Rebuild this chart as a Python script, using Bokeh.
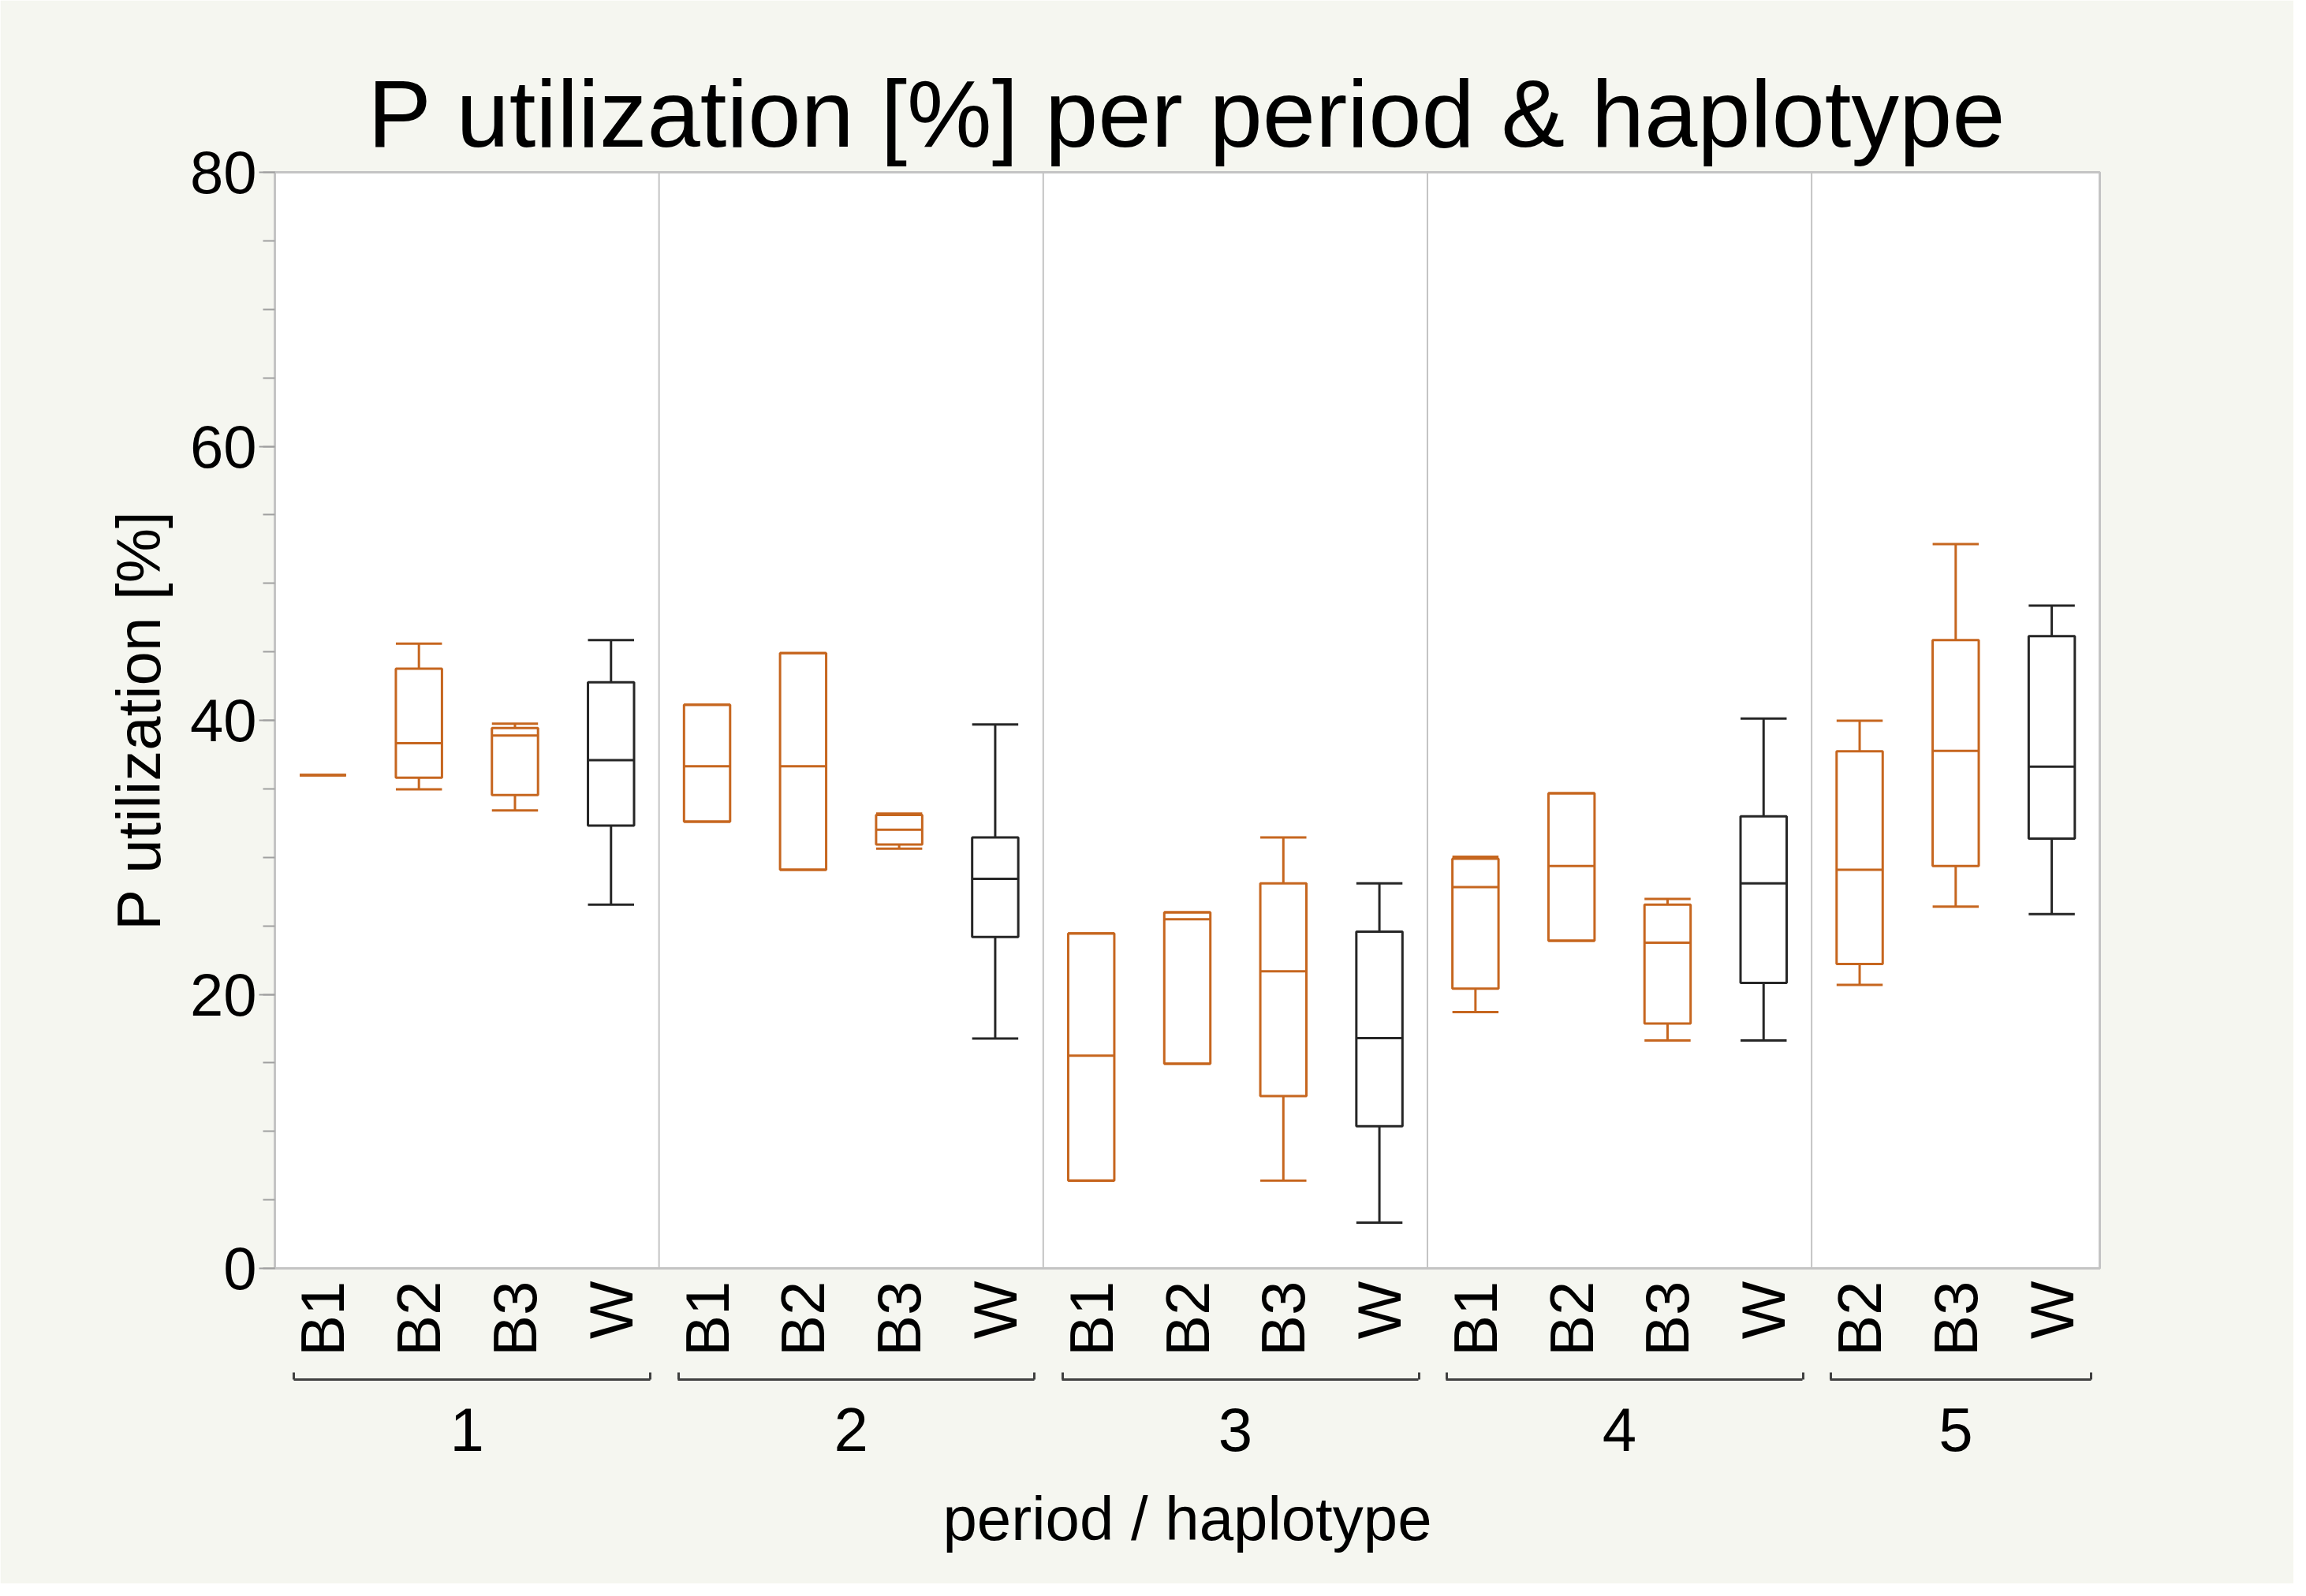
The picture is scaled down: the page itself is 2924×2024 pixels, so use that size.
import math
from bokeh.plotting import figure
from bokeh.models import (ColumnDataSource, FactorRange, Range1d, Span, LinearAxis,
                          SingleIntervalTicker, FixedTicker)
from bokeh.transform import dodge
from bokeh.embed import file_html
from bokeh.resources import INLINE

# ---------------- data ----------------
periods    = ["1", "1", "1", "1", "2", "2", "2", "2", "3", "3", "3", "3",
              "4", "4", "4", "4", "5", "5", "5"]
haplotypes = ["B1", "B2", "B3", "W", "B1", "B2", "B3", "W", "B1", "B2", "B3", "W",
              "B1", "B2", "B3", "W", "B2", "B3", "W"]
whisker_lo = [36.0, 34.96, 33.43, 26.55, 32.6, 29.1, 30.63, 16.77, 6.41, 14.93, 6.41, 3.34,
              18.71, 23.91, 16.63, 16.63, 20.69, 26.41, 25.85]
q1         = [36.0, 35.82, 34.54, 32.32, 32.6, 29.1, 30.93, 24.18, 6.41, 14.93, 12.57, 10.37,
              20.42, 23.91, 17.87, 20.84, 22.21, 29.37, 31.36]
medians    = [36.0, 38.33, 38.89, 37.1, 36.65, 36.65, 32.02, 28.43, 15.52, 25.48, 21.68, 16.8,
              27.83, 29.37, 23.77, 28.1, 29.09, 37.77, 36.62]
q3         = [36.0, 43.77, 39.44, 42.78, 41.13, 44.9, 33.09, 31.45, 24.45, 25.99, 28.1, 24.58,
              29.9, 34.67, 26.55, 32.99, 37.74, 45.86, 46.14]
whisker_hi = [36.0, 45.6, 39.75, 45.86, 41.13, 44.9, 33.2, 39.7, 24.45, 25.99, 31.45, 28.1,
              30.05, 34.67, 26.97, 40.13, 39.97, 52.87, 48.37]
y_ticks_major = 20
y_range = (0, 80)

ORANGE = "#c6661f"
DARK = "#262626"
GRID_GREY = "#c4c4c4"
BG = "#f5f6f0"
FONT = "Liberation Sans"
FRAME_W = 2314  # frame width in px (style)

colors = [DARK if h == "W" else ORANGE for h in haplotypes]
factors = list(zip(periods, haplotypes))
n = len(factors)

src = ColumnDataSource(dict(x=factors, lo=whisker_lo, q1=q1, med=medians, q3=q3,
                            hi=whisker_hi, color=colors))

x_range = FactorRange(*factors, factor_padding=0, group_padding=0,
                      subgroup_padding=0, range_padding=0)

p = figure(width=2908, height=2008, x_range=x_range, y_range=Range1d(*y_range),
           output_backend="svg", toolbar_location=None,
           min_border_left=348, min_border_right=246, min_border_top=218,
           min_border_bottom=400,
           title="P utilization [%] per period & haplotype",
           y_axis_label="P utilization [%]")

p.background_fill_color = "white"
p.border_fill_color = BG
p.outline_line_color = GRID_GREY
p.outline_line_width = 3
p.grid.visible = False

# title
p.title.text_font = FONT
p.title.text_font_size = "121px"
p.title.text_font_style = "normal"
p.title.text_color = "black"
p.title.align = "center"
p.title.standoff = 14

# period groups
counts = {}
for per in periods:
    counts[per] = counts.get(per, 0) + 1
bounds = []
acc = 0
for per in dict.fromkeys(periods):
    bounds.append((per, acc, acc + counts[per]))
    acc += counts[per]
for (_, a, b) in bounds[:-1]:
    p.add_layout(Span(location=b, dimension="height", line_color=GRID_GREY, line_width=2))

# boxes
W = 0.48
LW = 3
p.segment(x0="x", x1="x", y0="q3", y1="hi", source=src, line_color="color", line_width=LW)
p.segment(x0="x", x1="x", y0="lo", y1="q1", source=src, line_color="color", line_width=LW)
p.segment(x0=dodge("x", -W / 2, range=x_range), x1=dodge("x", W / 2, range=x_range),
          y0="hi", y1="hi", source=src, line_color="color", line_width=LW)
p.segment(x0=dodge("x", -W / 2, range=x_range), x1=dodge("x", W / 2, range=x_range),
          y0="lo", y1="lo", source=src, line_color="color", line_width=LW)
p.vbar(x="x", width=W, bottom="q1", top="q3", source=src, fill_color="white",
       fill_alpha=0, line_color="color", line_width=LW)
p.segment(x0=dodge("x", -W / 2, range=x_range), x1=dodge("x", W / 2, range=x_range),
          y0="med", y1="med", source=src, line_color="color", line_width=LW)

# y axis
yax = p.yaxis[0]
yax.ticker = SingleIntervalTicker(interval=y_ticks_major, num_minor_ticks=4)
yax.axis_line_color = GRID_GREY
yax.axis_line_width = 3
yax.major_tick_line_color = "#a0a0a0"
yax.minor_tick_line_color = "#a0a0a0"
yax.major_tick_line_width = 2
yax.minor_tick_line_width = 2
yax.major_tick_out = 20
yax.major_tick_in = 0
yax.minor_tick_out = 15
yax.minor_tick_in = 0
yax.major_label_standoff = 3
yax.major_label_text_font = FONT
yax.major_label_text_font_size = "76px"
yax.major_label_text_color = "black"
yax.axis_label_text_font = FONT
yax.axis_label_text_font_size = "78px"
yax.axis_label_text_font_style = "normal"
yax.axis_label_text_color = "black"
yax.axis_label_standoff = 18

# x axis: haplotype labels (inner level of the nested range)
xax = p.xaxis[0]
xax.axis_line_color = GRID_GREY
xax.axis_line_width = 3
xax.major_tick_line_color = None
xax.major_tick_out = 0
xax.major_tick_in = 0
xax.minor_tick_line_color = None
xax.separator_line_color = None
xax.major_label_orientation = math.pi / 2
xax.major_label_standoff = 16
xax.major_label_text_font = FONT
xax.major_label_text_font_size = "78px"
xax.major_label_text_color = "black"
xax.group_text_font_size = "1px"
xax.group_text_color = None
xax.axis_label = " "
xax.axis_label_text_font_size = "1px"
xax.axis_label_standoff = 22

# brackets under each period group (positions in the range's synthetic units)
L_IN, R_IN = 0.2, 0.09
px_per_cat = FRAME_W / n
on_px = (max(counts.values()) - L_IN - R_IN) * px_per_cat
off_px = (L_IN + R_IN) * px_per_cat
ends = []
for (_, a, b) in bounds:
    ends += [a + L_IN, b - R_IN]
bracket_axis = LinearAxis(ticker=FixedTicker(ticks=ends), bounds=(ends[0], ends[-1]))
bracket_axis.axis_line_color = "#404040"
bracket_axis.axis_line_width = 3
bracket_axis.axis_line_dash = "%d %d" % (round(on_px), round(off_px))
bracket_axis.major_tick_line_color = "#404040"
bracket_axis.major_tick_line_width = 3
bracket_axis.major_tick_in = 9
bracket_axis.major_tick_out = 0
bracket_axis.minor_tick_line_color = None
bracket_axis.major_label_text_font_size = "1px"
bracket_axis.major_label_text_color = None
bracket_axis.major_label_standoff = 0
p.add_layout(bracket_axis, "below")

# period labels + axis title
centers = [(a + b) / 2 for (_, a, b) in bounds]
centers = [int(c) if float(c).is_integer() else c for c in centers]
period_axis = LinearAxis(ticker=FixedTicker(ticks=centers),
                         major_label_overrides={c: per for c, (per, _, _) in zip(centers, bounds)})
period_axis.axis_line_color = None
period_axis.major_tick_line_color = None
period_axis.minor_tick_line_color = None
period_axis.major_tick_out = 0
period_axis.major_tick_in = 0
period_axis.major_label_standoff = 36
period_axis.major_label_text_font = FONT
period_axis.major_label_text_font_size = "78px"
period_axis.major_label_text_color = "black"
period_axis.axis_label = "period / haplotype"
period_axis.axis_label_text_font = FONT
period_axis.axis_label_text_font_size = "78px"
period_axis.axis_label_text_font_style = "normal"
period_axis.axis_label_text_color = "black"
period_axis.axis_label_standoff = 39
p.add_layout(period_axis, "below")

open("out.html", "w").write(file_html(p, INLINE))
